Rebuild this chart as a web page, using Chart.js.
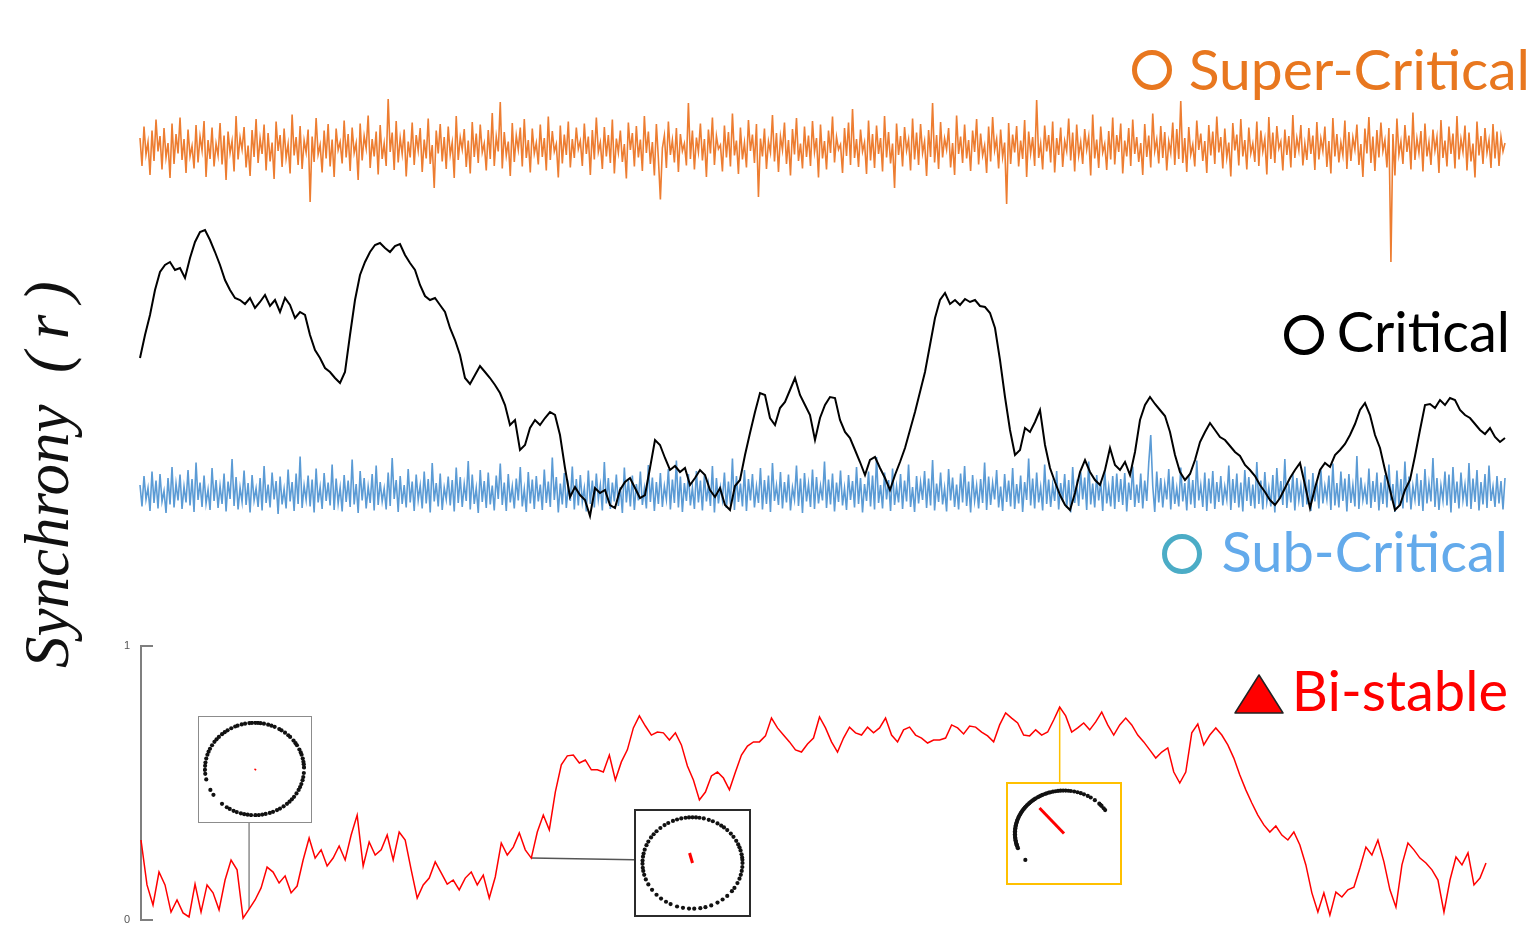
<!DOCTYPE html>
<html>
<head>
<meta charset="utf-8">
<title>Synchrony regimes</title>
<script src="https://cdn.jsdelivr.net/npm/chart.js@4.4.1/dist/chart.umd.min.js"></script>
<style>
  html, body { margin: 0; padding: 0; background: #fff; }
  body { width: 1536px; height: 929px; position: relative; overflow: hidden; }
  canvas.main { position: absolute; left: 0; }
  .lbl { position: absolute; font-family: Lato, "Open Sans", sans-serif; font-size: 56px; line-height: 56px; white-space: nowrap; }
  .ring { position: absolute; box-sizing: border-box; border-radius: 50%; border: 5px solid; }
  .inset { position: absolute; box-sizing: border-box; background: #fff; }
  .inset canvas { position: absolute; left: 0; top: 0; }
  #ylab { position: absolute; left: 0; top: 0; font-family: "Liberation Serif", "DejaVu Serif", serif; font-style: italic;
          font-size: 63px; line-height: 64px; white-space: nowrap; color: #111;
          transform-origin: 0 0; transform: translate(15px, 668px) rotate(-90deg); }
</style>
</head>
<body>
<canvas id="topChart" class="main" width="1536" height="560" style="top:0"></canvas>
<canvas id="botChart" class="main" width="1536" height="329" style="top:600px"></canvas>

<div id="ylab">Synchrony&#8194;(&#8201;r&#8201;)</div>

<div class="ring" style="left:1132px;top:50px;width:40px;height:40px;border-color:#E8771F"></div>
<div class="lbl" style="right:6px;top:40px;color:#E8771F;font-size:57px">Super-Critical</div>

<div class="ring" style="left:1284px;top:315px;width:40px;height:40px;border-color:#000"></div>
<div class="lbl" style="right:26px;top:303px;color:#000">Critical</div>

<div class="ring" style="left:1162px;top:534px;width:40px;height:40px;border-color:#4BACC6"></div>
<div class="lbl" style="right:28px;top:523px;color:#63AAEB">Sub-Critical</div>

<svg style="position:absolute;left:1233px;top:673px" width="52" height="42">
  <polygon points="26,2 50,40 2,40" fill="#FF0000" stroke="#222" stroke-width="1.5" stroke-linejoin="round"/>
</svg>
<div class="lbl" style="right:28px;top:662px;color:#FF0000">Bi-stable</div>

<div id="insets"></div>

<script>
// Order parameter r(t), stored as r × 1000, sampled evenly over the run.
const superCritical = [
  768,712,791,735,760,694,783,722,805,741,772,705,788,729,758,688,797,716,776,737,
  809,724,766,698,785,731,752,707,794,719,771,743,802,690,764,726,789,711,757,733,
  798,715,773,684,781,738,762,701,812,725,769,745,790,709,753,692,784,730,806,718,
  767,736,795,703,778,721,759,686,801,742,774,710,787,728,756,697,815,733,770,714,
  792,706,763,739,785,640,771,720,808,735,754,699,783,727,796,711,765,690,787,744,
  760,717,803,729,776,702,789,738,758,684,797,723,772,747,813,708,766,731,781,695,
  794,726,757,712,846,740,779,704,802,719,768,736,785,691,761,729,799,714,774,743,
  788,700,765,727,807,716,754,668,783,737,796,721,770,706,791,734,759,688,812,724,
  769,745,786,710,763,697,800,730,777,718,795,739,757,703,784,726,818,712,771,741,
  840,707,780,733,761,692,798,720,773,745,789,711,806,728,764,699,787,737,758,715,
  795,730,768,703,811,724,782,741,756,689,793,717,775,734,801,709,766,728,789,746,
  762,712,797,736,771,694,784,725,809,740,759,706,790,731,774,718,805,697,767,739,
  783,720,756,687,799,744,778,711,792,729,765,702,812,738,781,716,760,693,796,727,
  645,748,773,708,801,734,764,719,788,700,776,742,757,713,838,726,783,705,769,740,
  797,723,766,690,785,737,809,714,772,746,754,701,793,729,780,711,817,733,763,696,
  789,725,758,709,804,742,775,718,796,650,767,731,787,706,761,739,814,721,778,700,
  771,744,799,716,764,693,786,735,808,722,757,707,791,730,773,712,802,740,768,689,
  795,727,762,705,783,738,811,719,770,745,755,698,788,732,799,714,826,728,766,710,
  785,741,759,696,803,723,776,708,793,736,768,701,812,729,780,717,757,668,797,734,
  772,711,790,743,765,703,807,725,779,714,796,738,761,692,784,730,838,719,774,706,
  800,729,767,745,788,709,758,694,813,736,771,718,795,727,764,702,783,740,806,715,
  777,733,753,698,791,721,810,744,766,707,785,730,759,636,798,716,775,739,792,711,
  763,726,804,690,781,737,770,712,844,728,757,705,793,741,774,719,801,699,768,734,
  789,710,762,742,807,723,779,701,795,733,760,716,786,745,771,693,815,727,765,708,
  791,739,756,704,782,725,809,715,774,740,797,697,763,731,788,712,805,736,770,720,
  758,694,796,730,773,709,817,742,765,717,792,728,780,703,761,738,799,714,786,726,
  842,718,768,700,790,735,755,711,803,744,777,722,762,698,794,733,781,716,811,739,
  770,707,787,729,759,691,798,743,775,713,806,731,764,705,789,737,757,720,801,712,
  783,741,766,695,810,726,779,718,792,747,761,703,785,734,772,709,814,728,768,743,
  794,713,757,724,788,736,773,704,800,725,767,742,791,710,762,697,808,731,776,719,
  759,734,803,706,780,722,769,745,795,714,756,690,787,737,810,718,771,702,784,729,
  799,742,764,709,788,520,776,693,807,735,761,716,794,740,773,705,819,724,767,738,
  782,701,797,731,760,714,785,743,770,698,804,728,763,711,791,736,777,707,812,725,
  766,740,793,703,779,721,757,689,801,733,772,716,788,739,764,708,796,727,781,712,
  770,741,758
];

const critical = [
  328,374,414,464,500,514,520,504,508,488,528,560,580,584,564,540,514,484,464,448,
  444,436,448,428,440,454,432,444,420,448,434,408,420,414,374,344,328,308,300,288,
  278,300,374,444,494,520,540,554,558,548,540,552,556,534,518,504,474,452,444,448,
  434,420,388,364,334,288,276,294,312,300,288,274,258,234,194,204,144,154,188,204,
  194,208,220,214,174,108,50,70,54,44,12,68,58,64,34,28,64,80,88,68,
  48,54,108,164,154,128,104,112,100,108,74,88,104,94,64,50,68,34,24,72,
  84,134,178,220,258,254,208,194,228,240,264,288,254,234,214,164,208,234,250,248,
  204,180,168,144,120,94,124,130,108,88,64,94,120,148,184,220,260,300,354,408,
  444,458,436,444,434,446,440,444,432,430,418,388,324,250,184,134,144,188,180,200,
  224,154,108,80,54,34,24,58,100,124,100,84,74,104,148,114,104,120,94,140,
  204,234,250,236,224,212,180,134,100,84,96,124,160,180,198,184,170,164,152,140,
  132,114,104,92,74,60,44,34,48,68,88,104,118,74,28,68,104,118,110,134,
  144,156,174,196,224,238,214,174,148,104,64,24,34,64,84,132,184,234,236,228,
  244,234,248,244,224,214,208,196,184,176,188,170,160,168
];

const subCritical = [
  74,31,92,45,68,22,101,38,83,27,96,41,62,18,88,35,110,29,77,43,
  95,26,71,39,104,33,86,20,119,44,79,30,93,37,65,24,108,42,84,28,
  72,36,97,21,81,46,126,32,90,25,69,40,103,34,78,19,94,43,67,30,
  88,23,112,38,75,29,99,45,82,16,91,35,66,27,105,41,80,22,97,36,
  131,28,73,44,93,31,85,19,107,39,70,26,98,42,79,33,115,24,87,37,
  69,21,94,40,83,30,125,35,76,18,102,43,88,27,71,38,96,23,113,34,
  80,41,67,25,99,32,128,46,84,20,92,36,74,29,106,39,81,22,95,44,
  73,27,101,37,86,19,118,41,78,31,97,24,69,45,91,33,84,21,109,38,
  90,30,76,42,122,25,95,36,68,18,104,40,82,28,99,35,73,23,93,46,
  117,34,79,22,96,39,71,27,87,43,110,31,66,20,100,37,85,26,92,41,
  75,24,105,38,81,30,129,44,90,19,77,35,98,28,72,42,111,25,86,33,
  94,40,68,21,103,36,83,29,97,45,74,23,120,37,88,26,79,41,95,32,
  70,18,109,39,84,31,93,24,76,43,101,34,67,27,114,40,89,22,80,36,
  98,30,72,45,106,25,85,38,123,29,91,20,78,42,96,33,69,26,102,39,
  83,23,94,41,75,32,112,19,88,37,70,44,99,28,81,35,127,24,92,40,
  77,31,104,22,86,43,96,29,71,38,108,25,84,36,93,20,118,42,73,34,
  100,27,80,39,95,23,69,45,113,32,87,18,98,41,76,30,105,26,90,37,
  72,43,121,28,85,35,97,21,79,40,103,33,68,24,94,44,82,29,110,36,
  88,19,76,42,101,31,93,25,130,38,74,27,99,45,84,22,107,34,71,39,
  96,26,83,41,115,30,70,20,92,37,79,44,102,28,87,33,124,23,77,40,
  99,35,68,21,106,43,89,30,75,25,97,39,112,32,81,19,94,42,73,27,
  86,38,119,24,91,34,78,45,104,29,71,22,96,40,83,31,108,26,76,37,
  93,20,80,44,127,33,87,27,99,39,70,23,115,36,85,30,74,42,102,25,
  78,41,96,28,84,19,110,38,73,32,100,45,89,24,121,35,77,29,94,43,
  81,22,105,37,70,31,92,26,97,40,86,34,98,21,79,44,111,30,75,38,
  97,27,83,42,118,174,72,20,101,39,88,29,76,45,106,25,91,36,68,31,
  109,41,78,23,95,35,84,28,123,43,74,30,99,22,87,37,102,26,80,40,
  92,33,71,45,113,24,86,38,97,29,79,21,104,42,90,32,75,27,120,36,
  83,25,100,40,69,31,94,19,108,44,82,34,126,28,77,39,96,23,88,43,
  73,30,111,35,85,22,98,41,80,27,105,37,72,45,93,24,117,33,78,29,
  101,42,87,21,96,38,74,31,132,26,89,44,70,35,107,28,82,40,99,23,
  79,36,94,29,115,43,76,20,103,34,86,27,121,39,91,25,72,45,97,32,
  84,22,106,37,78,41,128,30,88,24,73,43,101,33,95,19,110,38,81,27,
  99,44,75,31,118,26,87,40,104,23,80,35,96,28,113,42,71,30,92,37,
  82,25,88
];

const bistable = [
  292,128,55,175,128,29,73,26,11,131,29,128,99,37,146,219,183,7,40,73,
  117,193,175,135,161,99,124,219,299,226,256,197,226,270,219,310,383,197,285,237,
  256,310,219,321,292,183,80,128,153,212,172,131,146,110,153,175,128,164,80,157,
  281,237,266,318,256,226,321,383,329,467,566,599,602,573,584,548,548,540,602,511,
  577,621,701,745,708,675,686,683,657,683,639,562,511,438,467,526,540,518,475,540,
  602,635,650,650,672,737,701,675,650,621,613,642,664,741,701,650,613,664,704,683,
  675,704,683,701,737,675,650,694,704,675,664,646,657,657,664,712,701,679,708,704,
  686,672,650,712,756,737,719,675,672,694,675,686,730,777,745,686,701,719,694,723,
  759,712,675,712,737,712,675,650,621,591,613,628,540,500,540,683,715,639,675,701,
  675,639,591,529,475,427,383,347,321,343,310,292,321,274,201,99,29,99,18,102,
  84,110,120,190,266,237,292,212,110,47,201,281,256,226,208,183,146,29,146,230,
  201,245,128,153,208
];

// Phase snapshots (degrees) at three moments of the bi-stable run
const phasesA = [2,6,9,13,18,21,25,31,34,38,44,47,52,57,60,66,70,74,79,83,86,89,93,96,101,105,110,113,118,123,
  127,131,136,140,144,149,154,158,162,167,172,176,181,186,193,207,214,229,236,240,245,249,254,258,262,266,271,275,279,283,
  288,292,297,301,306,311,315,319,323,328,333,337,341,346,350,355];
const phasesB = [0,4,7,11,16,20,24,29,35,40,46,51,55,60,66,71,77,82,86,90,94,98,103,108,113,119,124,130,136,141,
  146,152,157,163,168,172,177,181,186,190,195,201,208,216,224,231,238,244,252,259,266,272,279,285,292,300,307,314,322,327,
  334,340,345,350,355];
const phasesC = [200,198,196,195,193,191,189,187,185,183,181,179,177,175,173,171,169,167,165,163,161,159,157,155,153,151,
  149,147,145,143,141,139,137,135,133,131,129,127,125,122,120,118,116,113,111,108,106,103,100,97,94,91,88,85,82,78,74,70,
  66,61,57,51,44,42,40,36,33,218];
const meanPhaseDeg = [326, 105, 130];
const snapshotSample = [18, 65, 153];   // index into bistable
const rTicks = [0, 1];

// ---------- helpers ----------
const series = (arr) => arr.map((v, i) => ({ x: i / (arr.length - 1), y: v / 1000 }));
const line = (arr, color, width) => ({
  data: series(arr), borderColor: color, borderWidth: width, pointRadius: 0,
  tension: 0, fill: false, clip: false
});
const quiet = { legend: { display: false }, tooltip: { enabled: false } };

// ---------- upper panel: super-critical, critical, sub-critical ----------
new Chart(document.getElementById('topChart'), {
  type: 'line',
  data: { datasets: [
    line(critical, '#000000', 2),
    line(subCritical, '#5B9BD5', 1.6),
    line(superCritical, '#ED7D31', 1.6)
  ] },
  options: {
    responsive: false, animation: false, events: [],
    layout: { padding: { left: 140, right: 31, top: 22, bottom: 38 } },
    plugins: quiet,
    scales: {
      x: { type: 'linear', display: false, min: 0, max: 1 },
      y: { type: 'linear', display: false, min: 0, max: 1 }
    }
  }
});

// ---------- lower panel: bi-stable with phase snapshots ----------
const insetBoxes = [
  { left: 198, top: 716, w: 114, h: 107, border: '1.5px solid #8c8c8c', link: '#8c8c8c', attach: 'bottom', range: 1.04, vec: 1.5 },
  { left: 634, top: 809, w: 117, h: 108, border: '2px solid #2b2b2b',   link: '#555555', attach: 'left',   range: 1.05, vec: 3 },
  { left: 1006, top: 782, w: 116, h: 103, border: '2px solid #FFC000',  link: '#FFC000', attach: 'top',    range: 1.06, vec: 3 }
];
const BOT_TOP = 600;

const linkPlugin = {
  id: 'snapshotLinks',
  beforeDatasetsDraw(chart) {
    const { ctx } = chart;
    const xs = chart.scales.x, ys = chart.scales.y;
    insetBoxes.forEach((b, k) => {
      const i = snapshotSample[k];
      const px = xs.getPixelForValue(i / (bistable.length - 1));
      const py = ys.getPixelForValue(bistable[i] / 1000);
      ctx.save();
      ctx.strokeStyle = b.link;
      ctx.lineWidth = 1.5;
      ctx.beginPath();
      ctx.moveTo(px, py);
      if (b.attach === 'bottom') ctx.lineTo(px, b.top + b.h - BOT_TOP);
      else if (b.attach === 'top') ctx.lineTo(px, b.top - BOT_TOP);
      else ctx.lineTo(b.left, b.top + b.h * 0.47 - BOT_TOP);
      ctx.stroke();
      ctx.restore();
    });
  }
};

new Chart(document.getElementById('botChart'), {
  type: 'line',
  data: { datasets: [ line(bistable, '#FF0000', 1.5) ] },
  options: {
    responsive: false, animation: false, events: [],
    layout: { padding: { left: 0, right: 50, top: 46, bottom: 9 } },
    plugins: quiet,
    scales: {
      x: { type: 'linear', display: false, min: 0, max: 1 },
      y: {
        type: 'linear', min: 0, max: 1,
        afterFit: (s) => { s.width = 141; s.paddingTop = 0; s.paddingBottom = 0; },
        afterBuildTicks: (s) => { s.ticks = rTicks.map(v => ({ value: v })); },
        border: { display: true, color: '#7f7f7f', width: 2 },
        grid: { drawOnChartArea: false, drawTicks: true, tickLength: -12, color: '#7f7f7f', lineWidth: 2 },
        ticks: { padding: 23, color: '#555', font: { family: 'Liberation Sans, Arial, sans-serif', size: 11 } }
      }
    }
  },
  plugins: [linkPlugin]
});

// phase-circle insets
const phaseSets = [phasesA, phasesB, phasesC];
const holder = document.getElementById('insets');
insetBoxes.forEach((b, k) => {
  const div = document.createElement('div');
  div.className = 'inset';
  Object.assign(div.style, { left: b.left + 'px', top: b.top + 'px', width: b.w + 'px', height: b.h + 'px', border: b.border });
  const bw = parseFloat(b.border);
  const cv = document.createElement('canvas');
  cv.width = b.w - 2 * bw; cv.height = b.h - 2 * bw;
  div.appendChild(cv);
  holder.appendChild(div);

  const r = bistable[snapshotSample[k]] / 1000;
  const th = meanPhaseDeg[k] * Math.PI / 180;
  new Chart(cv, {
    type: 'scatter',
    data: { datasets: [
      { data: [{ x: 0, y: 0 }, { x: r * Math.cos(th), y: r * Math.sin(th) }], showLine: true,
        borderColor: '#FF0000', borderWidth: b.vec, pointRadius: 0 },
      { data: phaseSets[k].map(a => ({ x: Math.cos(a * Math.PI / 180), y: Math.sin(a * Math.PI / 180) })),
        pointRadius: 2.1, backgroundColor: '#111', borderWidth: 0 }
    ] },
    options: {
      responsive: false, animation: false, events: [],
      layout: { padding: 0 }, plugins: quiet,
      scales: {
        x: { display: false, min: -b.range, max: b.range },
        y: { display: false, min: -b.range, max: b.range }
      }
    }
  });
});
</script>
</body>
</html>
